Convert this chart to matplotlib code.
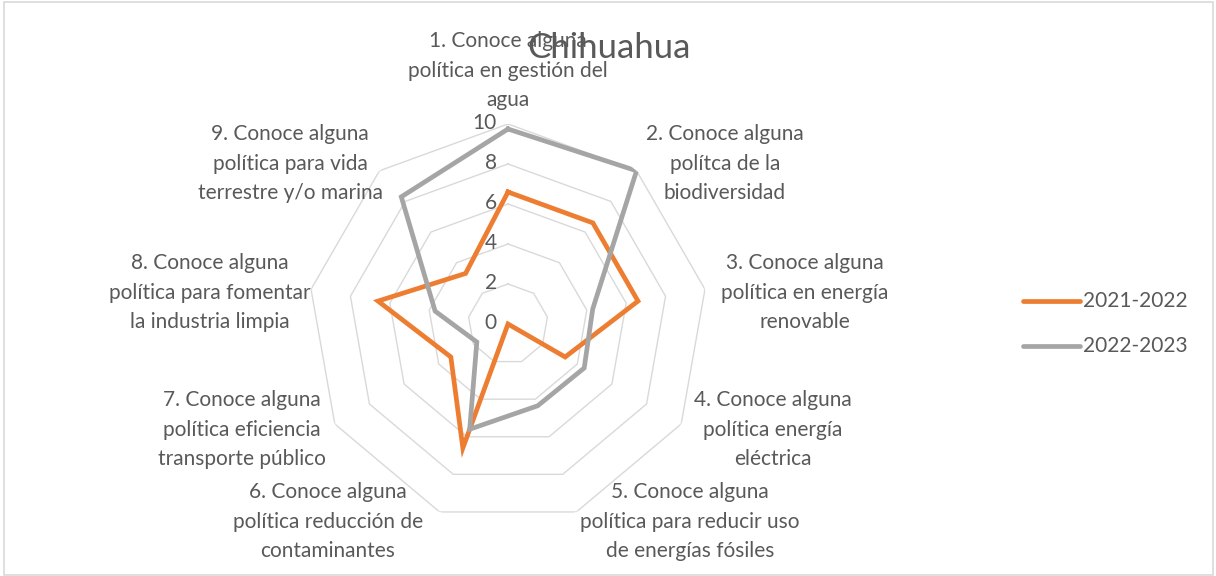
import numpy as np
import matplotlib
matplotlib.use("Agg")
import matplotlib.pyplot as plt
from matplotlib.patches import Rectangle

plt.rcParams['font.family'] = ['Lato', 'DejaVu Sans']

title = "Chihuahua"
categories = [
    "1. Conoce alguna\npolítica en gestión del\nagua",
    "2. Conoce alguna\npolítca de la\nbiodiversidad",
    "3. Conoce alguna\npolítica en energía\nrenovable",
    "4. Conoce alguna\npolítica energía\neléctrica",
    "5. Conoce alguna\npolítica para reducir uso\nde energías fósiles",
    "6. Conoce alguna\npolítica reducción de\ncontaminantes",
    "7. Conoce alguna\npolítica eficiencia\ntransporte público",
    "8. Conoce alguna\npolítica para fomentar\nla industria limpia",
    "9. Conoce alguna\npolítica para vida\nterrestre y/o marina",
]
series_names = ["2021-2022", "2022-2023"]
values_2021 = [6.6, 6.6, 6.6, 3.3, 0.0, 6.6, 3.3, 6.6, 3.3]
values_2022 = [9.75, 10.0, 4.3, 4.4, 4.35, 5.6, 1.8, 3.7, 8.3]
r_ticks = [0, 2, 4, 6, 8, 10]
colors = ["#ED7D31", "#A5A5A5"]

W, H = 1216, 576
fig = plt.figure(figsize=(W / 100, H / 100), dpi=100)

# chart border
fig.patches.append(Rectangle((4 / W, 1 / H), (1213 - 4) / W, (574 - 1) / H,
                             transform=fig.transFigure, fill=False,
                             edgecolor="#D9D9D9", linewidth=1.2))

cx, cy, R = 508, 324, 200
ax = fig.add_axes([(cx - R) / W, 1 - (cy + R) / H, 2 * R / W, 2 * R / H],
                  projection='polar')
ax.set_theta_zero_location('N')
ax.set_theta_direction(-1)
ax.set_ylim(0, 10)
ax.axis('off')

n = len(categories)
theta = np.arange(n) * 2 * np.pi / n
theta_c = np.append(theta, theta[0])

for rt in r_ticks[1:]:
    ax.plot(theta_c, [rt] * (n + 1), color="#D9D9D9", lw=1.0, zorder=1)

for vals, col, name in zip([values_2021, values_2022], colors, series_names):
    v = np.append(vals, vals[0])
    ax.plot(theta_c, v, color=col, lw=3.4, solid_joinstyle='miter', zorder=3,
            label=name)

FS = 15
# radial tick labels
for rt in r_ticks:
    ax.annotate(str(rt), xy=(0, rt), xytext=(-8, 1), textcoords='offset points',
                ha='right', va='center', fontsize=FS, color="#595959", zorder=4)

# category labels (pixel centre x of the label block, first line centre y)
label_pos = [(508, 40), (725, 133), (805, 262), (773, 399), (690, 491),
             (328, 491), (242, 399), (210, 262), (290, 133)]
for txt, (x, y) in zip(categories, label_pos):
    fig.text(x / W, 1 - (y - 9) / H, txt, ha='center', va='top',
             fontsize=FS, color="#595959", linespacing=1.6)

fig.text(609 / W, 1 - 48 / H, title, ha='center', va='center',
         fontsize=25, color="#595959")

# legend
leg_y = [301, 346]
for yy, col, name in zip(leg_y, colors, series_names):
    fig.lines.append(plt.Line2D([1023 / W, 1080 / W], [1 - yy / H] * 2,
                                transform=fig.transFigure, color=col, lw=3.4,
                                solid_capstyle='round'))
    fig.text(1083 / W, 1 - yy / H, name, ha='left', va='center',
             fontsize=FS, color="#595959")

fig.savefig("out.png", dpi=100)
